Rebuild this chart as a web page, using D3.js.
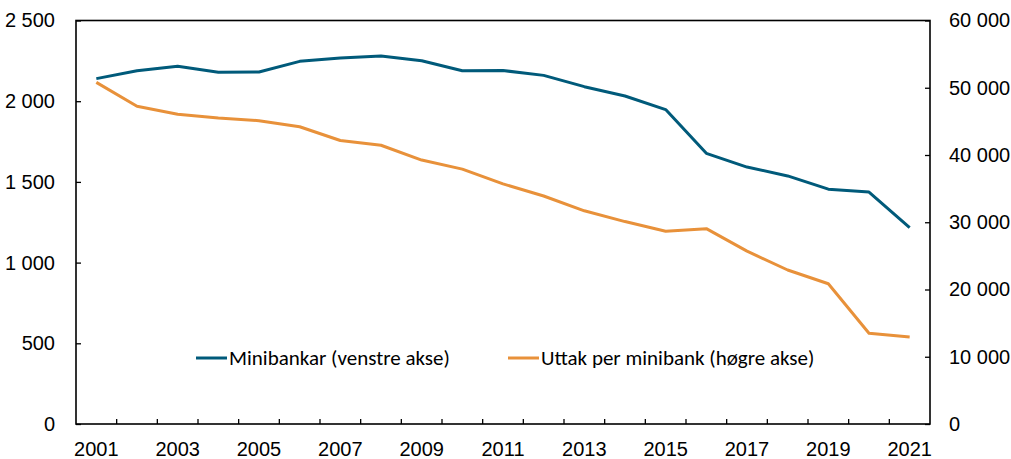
<!DOCTYPE html>
<html>
<head>
<meta charset="utf-8">
<script src="https://cdn.jsdelivr.net/npm/d3@7"></script>
<style>
  html, body { margin: 0; padding: 0; background: #fff; overflow: hidden; }
  svg { display: block; font-family: Carlito, Calibri, Lato, sans-serif; }
  .axis path { display: none; }
  .axis line { stroke: #000; stroke-width: 1.3; }
  .axis text { font-size: 20px; fill: #000; }
</style>
</head>
<body>
<svg id="chart" width="1011" height="459"></svg>
<script>
// Data
const years = d3.range(2001, 2022).map(String);
const minibankar = [2140, 2189, 2216, 2179, 2181, 2247, 2268, 2280, 2251, 2189, 2190,
  2160, 2090, 2032, 1948, 1677, 1592, 1537, 1455, 1437, 1216];
const uttak = [50800, 47250, 46050, 45500, 45100, 44200, 42150, 41450, 39250, 37900, 35700,
  33900, 31700, 30100, 28650, 29050, 25700, 22900, 20850, 13500, 12950];
const leftTicks = [0, 500, 1000, 1500, 2000, 2500];
const rightTicks = [0, 10000, 20000, 30000, 40000, 50000, 60000];
const legendLabels = ["Minibankar (venstre akse)", "Uttak per minibank (høgre akse)"];
const colors = ["#005a7a", "#e8913a"];

const svg = d3.select("#chart");
const width = +svg.attr("width");
const height = +svg.attr("height");
const margin = { top: 20.5, right: 81, bottom: 35, left: 76 };
const innerWidth = width - margin.left - margin.right;
const innerHeight = height - margin.top - margin.bottom;

const g = svg.append("g").attr("transform", `translate(${margin.left},${margin.top})`);

const x = d3.scaleBand().domain(years).range([0, innerWidth]).padding(0);
const yL = d3.scaleLinear().domain([0, 2500]).range([innerHeight, 0]);
const yR = d3.scaleLinear().domain([0, 60000]).range([innerHeight, 0]);

// norsk tallformat: mellomrom som tusenskilje
const loc = d3.formatLocale({ decimal: ",", thousands: "\u00a0", grouping: [3], currency: ["", " kr"] });
const fmt = loc.format(",d");

// Y-akser (tikker innover)
g.append("g")
  .attr("class", "axis")
  .call(d3.axisLeft(yL).tickValues(leftTicks).tickSize(-5).tickPadding(21).tickFormat(fmt));

g.append("g")
  .attr("class", "axis")
  .attr("transform", `translate(${innerWidth},0)`)
  .call(d3.axisRight(yR).tickValues(rightTicks).tickSize(-5).tickPadding(19).tickFormat(fmt));

// X-akse: etikett annethvert år, tikker mellom årene
g.append("g")
  .attr("class", "axis x")
  .attr("transform", `translate(0,${innerHeight})`)
  .call(d3.axisBottom(x).tickValues(years.filter((d, i) => i % 2 === 0)).tickSize(0).tickPadding(18));

g.append("g")
  .selectAll("line")
  .data(years.slice(1))
  .join("line")
  .attr("x1", (d) => x(d))
  .attr("x2", (d) => x(d))
  .attr("y1", innerHeight)
  .attr("y2", innerHeight - 5)
  .attr("stroke", "#000")
  .attr("stroke-width", 1.3);

// Ramme
g.append("rect")
  .attr("width", innerWidth)
  .attr("height", innerHeight)
  .attr("fill", "none")
  .attr("stroke", "#000")
  .attr("stroke-width", 1.6);

// Linjer
const cx = (d, i) => x(years[i]) + x.bandwidth() / 2;
const lineL = d3.line().x(cx).y((d) => yL(d));
const lineR = d3.line().x(cx).y((d) => yR(d));

g.append("path")
  .datum(minibankar)
  .attr("fill", "none")
  .attr("stroke", colors[0])
  .attr("stroke-width", 3)
  .attr("stroke-linejoin", "round")
  .attr("d", lineL);

g.append("path")
  .datum(uttak)
  .attr("fill", "none")
  .attr("stroke", colors[1])
  .attr("stroke-width", 3)
  .attr("stroke-linejoin", "round")
  .attr("d", lineR);

// Tegnforklaring
const legendX = [196, 508];
const legend = svg.append("g");
legendLabels.forEach((label, i) => {
  legend.append("line")
    .attr("x1", legendX[i])
    .attr("x2", legendX[i] + 31)
    .attr("y1", 358)
    .attr("y2", 358)
    .attr("stroke", colors[i])
    .attr("stroke-width", 3);
  legend.append("text")
    .attr("x", legendX[i] + 33)
    .attr("y", 358)
    .attr("dy", "0.35em")
    .attr("font-size", 21)
    .text(label);
});
</script>
</body>
</html>
